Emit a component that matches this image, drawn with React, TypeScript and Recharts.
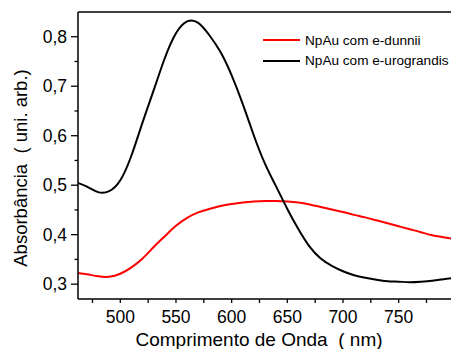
import React from 'react';
import { LineChart, Line, XAxis, YAxis, Legend, ReferenceLine, Label } from 'recharts';

const wavelengths = [460, 470, 480, 490, 500, 510, 520, 530, 540, 550, 560, 570, 580, 590, 600, 610, 620, 630, 640, 650, 660, 670, 680, 690, 700, 710, 720, 730, 740, 750, 760, 770, 780, 790, 800];
const dunnii = [0.323, 0.320, 0.316, 0.315, 0.321, 0.334, 0.352, 0.375, 0.397, 0.418, 0.434, 0.445, 0.452, 0.458, 0.462, 0.465, 0.467, 0.468, 0.468, 0.467, 0.465, 0.461, 0.456, 0.451, 0.446, 0.440, 0.435, 0.429, 0.423, 0.417, 0.411, 0.405, 0.399, 0.395, 0.391];
const urograndis = [0.506, 0.497, 0.486, 0.488, 0.510, 0.560, 0.627, 0.692, 0.757, 0.807, 0.831, 0.828, 0.803, 0.769, 0.722, 0.664, 0.600, 0.543, 0.497, 0.452, 0.411, 0.376, 0.352, 0.337, 0.326, 0.318, 0.313, 0.309, 0.306, 0.305, 0.304, 0.305, 0.307, 0.310, 0.313];

const seriesNames = ['NpAu com e-dunnii', 'NpAu com e-urograndis'];
const seriesColors = ['#ff0000', '#000000'];
const xMajorTicks = [500, 550, 600, 650, 700, 750];
const xAllTicks = [475, 500, 525, 550, 575, 600, 625, 650, 675, 700, 725, 750, 775];
const yMajorTicks = [0.3, 0.4, 0.5, 0.6, 0.7, 0.8];
const yAllTicks = [0.3, 0.35, 0.4, 0.45, 0.5, 0.55, 0.6, 0.65, 0.7, 0.75, 0.8];
const xTitle = 'Comprimento de Onda  ( nm)';
const yTitle = 'Absorbância  ( uni. arb.)';

const data = wavelengths.map((nm, i) => ({ nm, dunnii: dunnii[i], urograndis: urograndis[i] }));

const FONT = '"Liberation Sans", Arial, sans-serif';

const fmt = (v: number) => v.toFixed(1).replace('.', ',');

const XTick = (props: any) => {
  const { x, y, payload } = props;
  const v = payload.value;
  const major = xMajorTicks.includes(v);
  return (
    <g>
      <line x1={x} y1={y} x2={x} y2={y + 4} stroke="#000" strokeWidth={1.3} />
      {major && (
        <text x={x} y={y + 23.5} textAnchor="middle" fontFamily={FONT} fontSize={17.5} fill="#000">
          {v}
        </text>
      )}
    </g>
  );
};

const YTick = (props: any) => {
  const { x, y, payload } = props;
  const v = payload.value;
  const major = yMajorTicks.some((m) => Math.abs(m - v) < 1e-6);
  return (
    <g>
      <line x1={x} y1={y} x2={x - (major ? 7 : 3.5)} y2={y} stroke="#000" strokeWidth={1.3} />
      {major && (
        <text x={x - 11} y={y} dy="0.355em" textAnchor="end" fontFamily={FONT} fontSize={17.5} fill="#000">
          {fmt(v)}
        </text>
      )}
    </g>
  );
};

const renderLegend = () => (
  <div style={{ fontFamily: FONT, fontSize: 13.6, color: '#000' }}>
    {seriesNames.map((name, i) => (
      <div key={name} style={{ display: 'flex', alignItems: 'center', height: 20.5, whiteSpace: 'nowrap' }}>
        <span style={{ display: 'inline-block', width: 37, height: 0, borderTop: `2.5px solid ${seriesColors[i]}`, marginRight: 5 }} />
        <span>{name}</span>
      </div>
    ))}
  </div>
);

export default function App() {
  return (
    <div style={{ position: 'absolute', left: 0, top: 0, background: '#fff' }}>
      <LineChart width={451} height={349} data={data} margin={{ top: 12, right: 0, bottom: 0, left: 0 }}>
        <XAxis
          dataKey="nm"
          type="number"
          domain={[462, 797]}
          allowDataOverflow
          ticks={xAllTicks}
          interval={0}
          height={50}
          tickSize={0}
          tickMargin={0}
          tickLine={false}
          tick={<XTick />}
          axisLine={{ stroke: '#000', strokeWidth: 1.5 }}
        >
          <Label
            content={() => (
              <text x={259} y={346} textAnchor="middle" fontFamily={FONT} fontSize={19} fill="#000" style={{ whiteSpace: 'pre' }}>
                {xTitle}
              </text>
            )}
          />
        </XAxis>
        <YAxis
          type="number"
          domain={[0.27, 0.85]}
          allowDataOverflow
          ticks={yAllTicks}
          interval={0}
          width={78}
          tickSize={0}
          tickMargin={0}
          tickLine={false}
          tick={<YTick />}
          axisLine={{ stroke: '#000', strokeWidth: 1.5 }}
        >
          <Label
            content={() => (
              <text x={27} y={168} transform="rotate(-90, 27, 168)" textAnchor="middle" fontFamily={FONT} fontSize={18.5} fill="#000" style={{ whiteSpace: 'pre' }}>
                {yTitle}
              </text>
            )}
          />
        </YAxis>
        <ReferenceLine y={0.85} stroke="#000" strokeWidth={1.5} />
        <Legend
          layout="vertical"
          align="center"
          verticalAlign="middle"
          content={renderLegend}
          wrapperStyle={{ position: 'absolute', left: 263, top: 30, width: 190 }}
        />
        <Line type="natural" dataKey="dunnii" name={seriesNames[0]} stroke={seriesColors[0]} strokeWidth={2} dot={false} isAnimationActive={false} />
        <Line type="natural" dataKey="urograndis" name={seriesNames[1]} stroke={seriesColors[1]} strokeWidth={2} dot={false} isAnimationActive={false} />
      </LineChart>
    </div>
  );
}
